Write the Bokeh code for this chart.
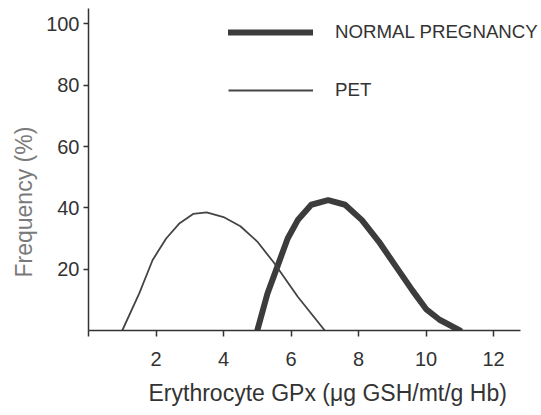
from bokeh.plotting import figure
from bokeh.models import Range1d, FixedTicker, Legend, LegendItem, Title
from bokeh.embed import file_html
from bokeh.resources import INLINE

# Data
normal_x = [5.0, 5.3, 5.6, 5.9, 6.2, 6.6, 7.1, 7.6, 8.1, 8.6, 9.1, 9.6, 10.0, 10.4, 11.0]
normal_y = [0, 12, 21, 30, 36, 41, 42.5, 41, 36, 29, 21, 13, 7, 3.5, 0]
pet_x = [1.0, 1.5, 1.9, 2.3, 2.7, 3.1, 3.5, 4.0, 4.5, 5.0, 5.5, 6.2, 7.0]
pet_y = [0, 12, 23, 30, 35, 38, 38.5, 37, 34, 29, 22, 11, 0]
x_ticks = [0, 2, 4, 6, 8, 10, 12]
x_tick_labels = {0: "", 2: "2", 4: "4", 6: "6", 8: "8", 10: "10", 12: "12"}
y_ticks = [20, 40, 60, 80, 100]
series_names = ["NORMAL PREGNANCY", "PET"]
x_title = "Erythrocyte GPx (\u03bcg GSH/mt/g Hb)"
y_title = "Frequency (%)"

FONT = "Liberation Sans"
INK = "#333333"

p = figure(width=541, height=415, output_backend="svg", toolbar_location=None,
           x_range=Range1d(0, 13.42), y_range=Range1d(0, 105),
           min_border_left=88, min_border_right=0, min_border_top=8, min_border_bottom=84)
p.outline_line_color = None
p.grid.visible = False
p.background_fill_color = "white"

r_norm = p.line(normal_x, normal_y, line_width=6, line_color="#3c3c3c", line_join="round", line_cap="round")
r_pet = p.line(pet_x, pet_y, line_width=1.8, line_color="#444444", line_join="round")

for ax in (p.xaxis[0], p.yaxis[0]):
    ax.axis_line_color = INK
    ax.axis_line_width = 1.5
    ax.major_tick_line_color = INK
    ax.major_tick_line_width = 1.5
    ax.minor_tick_line_color = None
    ax.major_tick_in = 0
    ax.major_label_text_font = FONT
    ax.major_label_text_font_size = "20px"
    ax.major_label_text_color = INK

p.xaxis.ticker = FixedTicker(ticks=x_ticks)
p.xaxis.major_label_overrides = x_tick_labels
p.xaxis.bounds = (0, 12.8)
p.xaxis.major_tick_out = 6
p.xaxis.major_label_standoff = 15
p.yaxis.ticker = FixedTicker(ticks=y_ticks)
p.yaxis.major_tick_out = 5
p.yaxis.major_label_standoff = 4

p.add_layout(Title(text=x_title, align="left", offset=60, standoff=19,
                   text_font=FONT, text_font_size="23px", text_color=INK,
                   text_font_style="normal"), "below")
p.add_layout(Title(text=y_title, align="left", offset=53, standoff=10, vertical_align="top",
                   text_font=FONT, text_font_size="23px", text_color="#7a7a7a",
                   text_font_style="normal"), "left")

legend = Legend(items=[LegendItem(label=series_names[0], renderers=[r_norm]),
                       LegendItem(label=series_names[1], renderers=[r_pet])],
                location=(140, 229), orientation="vertical")
legend.glyph_width = 85
legend.glyph_height = 20
legend.label_height = 20
legend.spacing = 36
legend.label_standoff = 22
legend.padding = 0
legend.margin = 0
legend.border_line_color = None
legend.background_fill_alpha = 0
legend.label_text_font = FONT
legend.label_text_font_size = "18.7px"
legend.label_text_color = INK
legend.label_text_baseline = "middle"
p.add_layout(legend, "center")

open("out.html", "w").write(file_html(p, INLINE))
